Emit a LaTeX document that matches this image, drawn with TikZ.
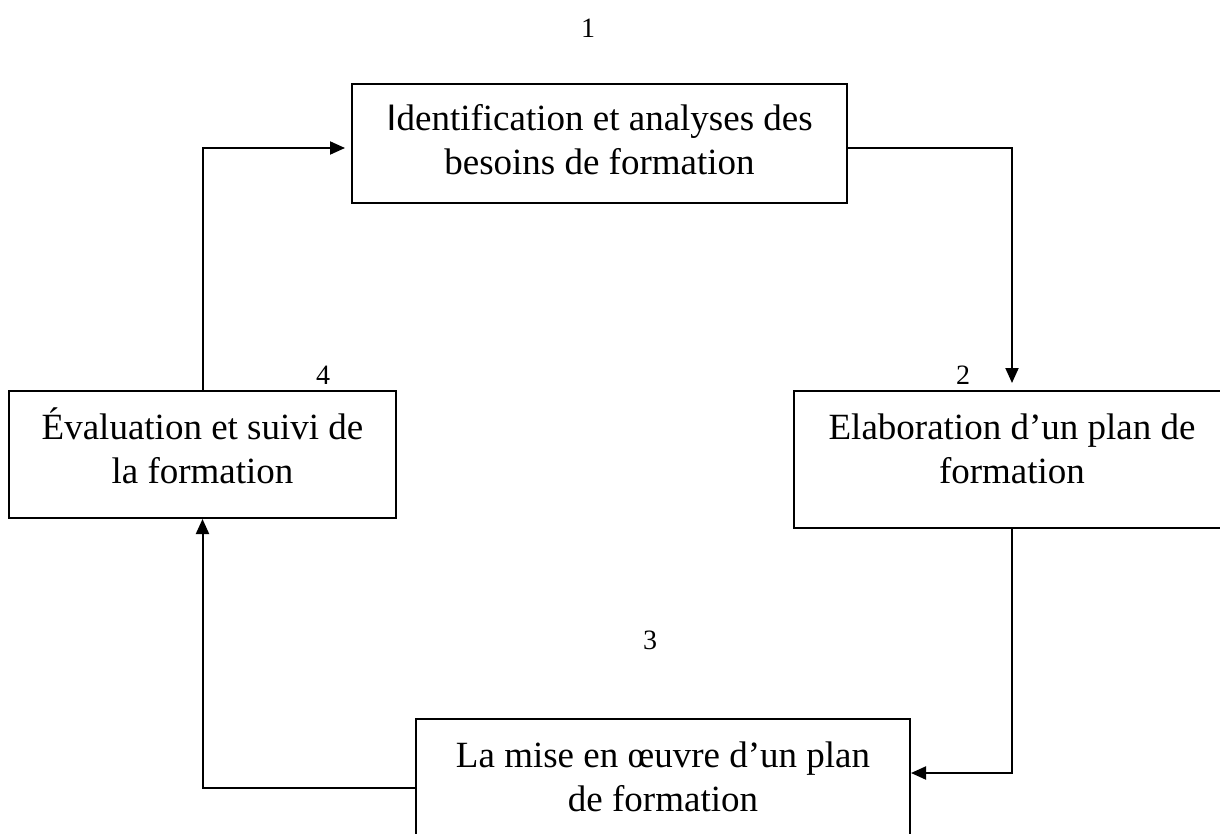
\documentclass[tikz,border=0pt]{standalone}
\usepackage{fontspec}
\setmainfont{Liberation Serif}
\newfontfamily\sansI{Liberation Sans}
\usetikzlibrary{arrows.meta,calc}
\begin{document}
\begin{tikzpicture}[x=1pt,y=-1pt,
  box/.style={draw, line width=2pt, inner sep=0pt, anchor=north west},
  txt/.style={font=\fontsize{37}{44}\selectfont, align=center, inner sep=0pt, anchor=base},
  num/.style={font=\fontsize{28}{32}\selectfont, inner sep=0pt},
  conn/.style={line width=2pt},
  arr/.style={conn, -{Triangle[length=15pt,width=13pt]}}]
\useasboundingbox (0,0) rectangle (1220,834);
\clip (0,0) rectangle (1220,834);
% boxes
\node[box, minimum width=495pt, minimum height=119pt] (b1) at (351,83) {};
\node[box, minimum width=436pt, minimum height=137pt] (b2) at (793,390) {};
\node[box, minimum width=387pt, minimum height=127pt] (b4) at (8,390) {};
\node[box, minimum width=494pt, minimum height=200pt] (b3) at (415,718) {};
% texts (anchor base = baseline of the last line)
\node[txt] (t1) at ($(b1.north)+(0,92)$) {{\sansI I}dentification et analyses des\\besoins de formation};
\node[txt] (t2) at ($(b2.north)+(0,93)$) {Elaboration d’un plan de\\formation};
\node[txt] (t4) at ($(b4.north)+(0,93)$) {Évaluation et suivi de\\la formation};
\node[txt] (t3) at ($(b3.north)+(0,93)$) {La mise en œuvre d’un plan\\de formation};
% numbers
\node[num] (n1) at (588,28) {1};
\node[num] (n2) at (963,375) {2};
\node[num] (n3) at (650,640) {3};
\node[num] (n4) at (323,375) {4};
% connectors
\draw[arr, shorten >=6pt] (b4.north) |- ([yshift=-4.5pt]b1.west);
\draw[arr, shorten >=7pt] ([yshift=-4.5pt]b1.east) -| (b2.north);
\draw[arr] (b2.south) |- ($(b3.north east)+(0,55)$);
\draw[arr] ($(b3.north west)+(0,70)$) -| (b4.south);
\end{tikzpicture}
\end{document}
